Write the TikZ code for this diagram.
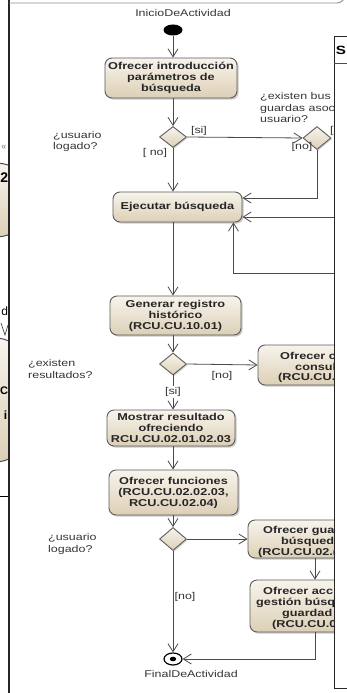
\documentclass[tikz,border=0pt]{standalone}
\usepackage{fontspec}
\setmainfont{Liberation Sans}[FakeStretch=1.27]
\newfontfamily\narrowfont{Liberation Sans}
\usetikzlibrary{arrows.meta,shapes.geometric,shadows,calc}

\definecolor{boxtop}{HTML}{F8F4EC}
\definecolor{boxbot}{HTML}{DCCFB6}
\definecolor{edge}{HTML}{5C5C5C}
\definecolor{wire}{HTML}{4A4A4A}
\definecolor{lbl}{HTML}{363636}

\tikzset{
  act/.style={draw=edge, line width=0.9pt, rounded corners=7pt,
    top color=boxtop, bottom color=boxbot, inner sep=0pt, align=center,
    font=\bfseries\fontsize{10}{11}\selectfont, text=black!85,
    drop shadow={shadow xshift=1.6pt, shadow yshift=-1.6pt, opacity=0.35, fill=black!60}},
  decision/.style={diamond, draw=edge, line width=0.9pt, inner sep=0pt,
    top color=boxtop, bottom color=boxbot, minimum width=27pt, minimum height=21pt,
    drop shadow={shadow xshift=1.2pt, shadow yshift=-1.2pt, opacity=0.3, fill=black!60}},
  flow/.style={draw=wire, line width=0.8pt, -{Straight Barb[length=8pt,width=10pt]}},
  lab/.style={inner sep=0pt, text=lbl, font=\fontsize{9.8}{11.5}\selectfont},
  frag/.style={inner sep=0pt, anchor=west, text=black!85, font=\bfseries\fontsize{10}{11}\selectfont},
  edgetext/.style={inner sep=0pt, anchor=east, font=\narrowfont\bfseries\fontsize{#1}{#1}\selectfont},
}

\begin{document}
\begin{tikzpicture}[x=1pt,y=-1pt]
\useasboundingbox (0,0) rectangle (347,693);
\fill[white] (0,0) rectangle (347,693);

% neighbouring diagram visible at the left edge
\begin{scope}
  \clip (0,0) rectangle (8.5,693);
  \shade[top color=boxtop, bottom color=boxbot, draw=black!70, line width=1pt]
    (-5,200) ellipse [x radius=40, y radius=37];
  \shade[top color=boxtop, bottom color=boxbot, draw=black!70, line width=1pt]
    (-5,400) ellipse [x radius=45, y radius=62];
  \node[inner sep=0pt, text=black!55, font=\narrowfont\fontsize{9}{9}\selectfont] (lq) at (4,147) {«};
  \node[edgetext=14] (l2) at (8.3,178) {2};
  \node[inner sep=0pt, anchor=east, font=\narrowfont\fontsize{12}{12}\selectfont] (ld) at (8.3,311) {d};
  \draw[black!70, line width=0.7pt] (1,323) -- (5,335) -- (8,325);
  \node[edgetext=11] (lc) at (8.3,391) {C};
  \node[edgetext=12] (li) at (7.5,415) {i};
  \draw[black, line width=1pt] (0,496) -- (9,496);
\end{scope}

% frame of the activity diagram
\draw[black!85, line width=1.4pt] (9,-1) -- (9,694);
\draw[black!45, line width=0.9pt] (9,3) -- (337,3) to[out=0,in=-120] (345,-3);

% start
\node[lab] (startlbl) at (183,13) {InicioDeActividad};
\node[ellipse, fill=black, inner sep=0pt, minimum width=19pt, minimum height=11pt] (start) at (173,30) {};

% main column
\node[act, minimum width=132pt, minimum height=40pt] (b1) at (171,78)
  {Ofrecer introducción\\parámetros de\\búsqueda};
\node[decision] (d1) at (173,137) {};
\node[act, minimum width=129pt, minimum height=30pt] (b2) at (177.5,207)
  {Ejecutar búsqueda};
\node[act, minimum width=131pt, minimum height=39pt] (b3) at (175.5,315.5)
  {Generar registro\\histórico\\(RCU.CU.10.01)};
\node[decision, minimum height=22pt] (d3) at (173,364) {};
\node[act, minimum width=128pt, minimum height=36pt] (b4) at (171,428)
  {Mostrar resultado\\ofreciendo\\RCU.CU.02.01.02.03};
\node[act, minimum width=129pt, minimum height=45pt] (b5) at (173.5,492.5)
  {Ofrecer funciones\\(RCU.CU.02.02.03,\\RCU.CU.02.04)};
\node[decision, minimum height=23pt] (d4) at (173,539) {};
\node[ellipse, draw=black, line width=1.2pt, fill=white, inner sep=0pt,
      minimum width=18pt, minimum height=12pt] (fin) at (173,659) {};
\fill[black] (fin.center) ellipse [x radius=3.2, y radius=2.3];
\node[lab] (finlbl) at (191,674) {FinalDeActividad};

% right column
\node[decision, minimum width=28pt, minimum height=23pt] (d2) at (317,138) {};
\node[act, minimum width=100pt, minimum height=40pt] (r1) at (308,365) {};
\node[frag] at (280,356) {Ofrecer c};
\node[frag] at (295,367) {consul};
\node[frag] at (278,378) {(RCU.CU.};
\node[act, minimum width=100pt, minimum height=38pt] (r2) at (298,539) {};
\node[frag] at (263,531) {Ofrecer gua};
\node[frag] at (281,542) {búsqued};
\node[frag] at (258,553) {(RCU.CU.02.(};
\node[act, minimum width=100pt, minimum height=52pt] (r3) at (300,606) {};
\node[frag] at (263,591) {Ofrecer acc};
\node[frag] at (256,603) {gestión búsq};
\node[frag] at (282,614) {guardad};
\node[frag] at (272,625) {(RCU.CU.0};

% guide coordinates
\coordinate (colR) at (315,0);
\coordinate (in1) at (350,217);
\coordinate (in2) at (350,273);

% connectors
\draw[flow] (start) -- (b1.north -| start);
\draw[flow] (b1.south -| d1) -- (d1.north);
\draw[flow] (d1.east) -- (d2.west);
\draw[flow] (d1.south) -- (b2.north -| d1);
\draw[flow] (d2.south) |- ([yshift=9pt]b2.east);
\draw[flow] (in1) -- ([yshift=-10pt]b2.east);
\draw[flow] (in2) -| ([xshift=-9pt]b2.south east);
\draw[flow] (b2.south -| d1) -- (b3.north -| d1);
\draw[flow] (b3.south -| d3) -- (d3.north);
\draw[flow] (d3.east) -- (r1.west);
\draw[flow] (d3.south) -- (b4.north -| d3);
\draw[flow] (b4.south -| d4) -- (b5.north -| d4);
\draw[flow] (b5.south -| d4) -- (d4.north);
\draw[flow] (d4.east) -- (r2.west);
\draw[flow] (r2.south -| colR) -- (r3.north -| colR);
\draw[flow] (r3.south -| colR) |- (fin.east);
\draw[flow] (d4.south) -- (fin.north);

% guards and questions
\node[lab] at (199,131) {[si]};
\node[lab] at (155,153) {[ no]};
\node[lab, anchor=west] at (330,131) {[si]};
\node[lab] at (302,147) {[no]};
\node[lab] at (222,376) {[no]};
\node[lab, fill=white, inner sep=1pt] at (173,392) {[si]};
\node[lab] at (185,597) {[no]};
\node[lab, anchor=west, align=left] at (53,141.5) {¿usuario\\logado?};
\node[lab, anchor=west, align=left] at (28,369) {¿existen\\resultados?};
\node[lab, anchor=west, align=left] at (48,544) {¿usuario\\logado?};
\node[lab, anchor=west, align=left] at (260,107.5) {¿existen bus\\guardas asoc\\usuario?};

% overlapping panel on the right
\node[draw=black!85, line width=1.2pt, fill=white, minimum width=40pt, minimum height=652pt,
      anchor=north west, inner sep=0pt] (panel) at (333.5,36) {};
\draw[black!70, line width=0.9pt] (panel.west |- 0,63) -- (360,63);
\node[inner sep=0pt, font=\bfseries\fontsize{12}{12}\selectfont] (ptitle) at (341,50) {S};
\end{tikzpicture}
\end{document}
